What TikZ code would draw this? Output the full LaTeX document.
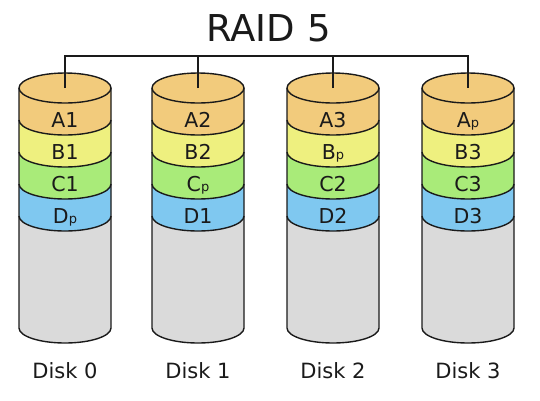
\documentclass[tikz,border=0pt]{standalone}
\usepackage{fontspec}
\setmainfont{DejaVu Sans}
\definecolor{cA}{HTML}{F2CB7C}
\definecolor{cB}{HTML}{EEF07F}
\definecolor{cC}{HTML}{A9EB79}
\definecolor{cD}{HTML}{7FC8F0}
\definecolor{cG}{HTML}{DADADA}
\definecolor{ink}{HTML}{1A1A1A}
\newcommand{\pp}{{\fontsize{13}{13}\selectfont p}}
\begin{document}
\begin{tikzpicture}[x=1pt,y=1pt,
  disk/.style={draw=ink,line width=1.4pt},
  busline/.style={draw=ink,line width=1.8pt},
  lbl/.style={anchor=base,inner sep=0pt,font=\fontsize{20.5}{20.5}\selectfont,text=ink},
  disklbl/.style={anchor=base,inner sep=0pt,font=\fontsize{21}{21}\selectfont,text=ink},
  titlelbl/.style={anchor=base,inner sep=0pt,font=\fontsize{37}{37}\selectfont,text=ink}]
\useasboundingbox (0,0) rectangle (540,-400);
\node[titlelbl] (title) at (268.5,-41) {RAID 5};
\coordinate (bus) at (0,-56);
\foreach \i/\cx/\la/\lb/\lc/\ld in {0/65/A1/B1/C1/D\pp, 1/198/A2/B2/C\pp/D1, 2/333/A3/B\pp/C2/D2, 3/468/A\pp/B3/C3/D3} {
  \fill[cG] (\cx-46,-216) -- (\cx-46,-328) arc[start angle=180,end angle=360,x radius=46pt,y radius=15pt] -- (\cx+46,-216) -- cycle;
  \foreach \ya/\yb/\col in {184/216/cD,152/184/cC,120/152/cB,88/120/cA}
    \fill[\col] (\cx-46,-\ya) -- (\cx-46,-\yb) arc[start angle=180,end angle=360,x radius=46pt,y radius=15pt] -- (\cx+46,-\ya) -- cycle;
  \foreach \yy in {120,152,184,216}
    \draw[disk] (\cx-46,-\yy) arc[start angle=180,end angle=360,x radius=46pt,y radius=15pt];
  \draw[disk] (\cx-46,-88) -- (\cx-46,-328) arc[start angle=180,end angle=360,x radius=46pt,y radius=15pt] -- (\cx+46,-88);
  \path[disk,fill=cA] (\cx,-88) ellipse [x radius=46pt,y radius=15pt];
  \coordinate (t\i) at (\cx,-88);
  \node[lbl] (a\i) at (\cx,-127.5) {\la};
  \node[lbl] (b\i) at (\cx,-159.5) {\lb};
  \node[lbl] (c\i) at (\cx,-191.5) {\lc};
  \node[lbl] (d\i) at (\cx,-223.5) {\ld};
  \node[disklbl] (n\i) at (\cx,-378) {Disk \i};
}
\draw[busline] (t0) -- (t0|-bus) -- (t3|-bus) -- (t3);
\draw[busline] (t1) -- (t1|-bus);
\draw[busline] (t2) -- (t2|-bus);
\end{tikzpicture}
\end{document}
